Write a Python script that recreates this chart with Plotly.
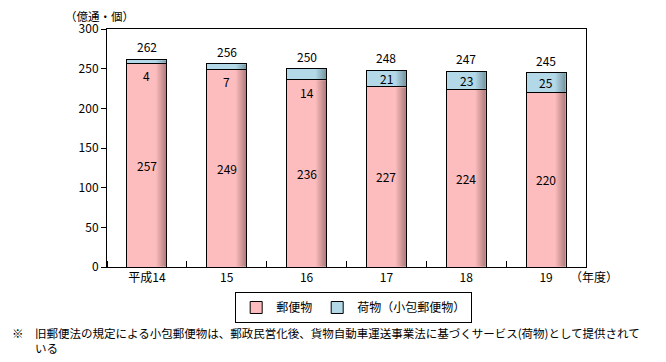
import plotly.graph_objects as go

years = ["平成14", "15", "16", "17", "18", "19"]
mail = [257, 249, 236, 227, 224, 220]
parcel = [4, 7, 14, 21, 23, 25]
totals = [262, 256, 250, 248, 247, 245]

FONT = "Noto Sans CJK JP, Noto Sans, sans-serif"
PINK = "#FDBDBE"
BLUE = "#B3D9E8"
BAR_W = 0.5

xs = list(range(len(years)))
fig = go.Figure()
fig.add_trace(go.Bar(x=xs, y=mail, name="郵便物", width=BAR_W,
                     marker=dict(color=PINK, line=dict(color="black", width=1))))
fig.add_trace(go.Bar(x=xs, y=parcel, name="荷物（小包郵便物）", width=BAR_W,
                     marker=dict(color=BLUE, line=dict(color="black", width=1))))

# right-edge shading overlays (derived from bar positions and values)
shade = [[0, "rgba(70,30,30,0)"], [1, "rgba(70,30,30,0.42)"]]
shade_b = [[0, "rgba(30,50,60,0)"], [1, "rgba(30,50,60,0.42)"]]
for i in xs:
    x0 = i + BAR_W * 0.22
    x1 = i + BAR_W / 2 - 0.006
    for (lo, hi, cs) in [(0, mail[i], shade), (mail[i], mail[i] + parcel[i], shade_b)]:
        lo2 = lo + 0.6
        hi2 = hi - 0.6
        fig.add_trace(go.Scatter(x=[x0, x1, x1, x0, x0], y=[lo2, lo2, hi2, hi2, lo2],
                                 mode="lines", line=dict(width=0), fill="toself",
                                 fillgradient=dict(type="horizontal", colorscale=cs),
                                 showlegend=False, hoverinfo="skip"))

LF = dict(size=12, color="black", family=FONT)
ann = []
for i in xs:
    ann.append(dict(x=i, y=totals[i], text=str(totals[i]), showarrow=False,
                    yanchor="bottom", yshift=2, font=LF))
    ann.append(dict(x=i, y=mail[i] / 2, text=str(mail[i]), showarrow=False,
                    yanchor="middle", font=LF))
    if parcel[i] < 18:
        ann.append(dict(x=i, y=mail[i], text=str(parcel[i]), showarrow=False,
                        yanchor="top", yshift=-2, font=LF))
    else:
        ann.append(dict(x=i, y=mail[i] + parcel[i] / 2, text=str(parcel[i]), showarrow=False,
                        yanchor="middle", font=LF))

ann.append(dict(xref="paper", yref="paper", x=-0.092, y=1.055, text="（億通・個）",
                showarrow=False, xanchor="left", yanchor="middle",
                font=dict(size=11.5, color="black", family=FONT)))
ann.append(dict(xref="paper", yref="paper", x=0.962, y=-0.042, text="（年度）",
                showarrow=False, xanchor="left", yanchor="middle", font=LF))
ann.append(dict(xref="paper", yref="paper", x=-0.202, y=-0.31,
                text="※\u3000旧郵便法の規定による小包郵便物は、郵政民営化後、貨物自動車運送事業法に基づくサービス(荷物)として提供されて<br>\u3000\u3000いる",
                showarrow=False, xanchor="left", yanchor="middle", align="left",
                font=dict(size=11.5, color="black", family=FONT)))

fig.update_layout(
    barmode="stack",
    width=666, height=362,
    margin=dict(l=99, r=88, t=21, b=103, autoexpand=False),
    paper_bgcolor="white", plot_bgcolor="white",
    font=dict(family=FONT, size=12, color="black"),
    showlegend=True,
    legend=dict(orientation="h", x=0.515, y=-0.105, xanchor="center", yanchor="top",
                bordercolor="black", borderwidth=1, bgcolor="white",
                font=dict(size=12, family=FONT), traceorder="normal"),
    annotations=ann,
)
fig.update_xaxes(range=[-0.5, 5.5], tickvals=xs, ticktext=years, ticks="",
                 showline=True, linecolor="black", linewidth=1, mirror=True,
                 showgrid=False, zeroline=False,
                 minor=dict(tick0=0.5, dtick=1, ticks="inside", ticklen=6, tickcolor="black"),
                 tickfont=LF)
fig.update_yaxes(range=[0, 300], dtick=50, ticks="outside", ticklen=5, tickcolor="black",
                 showline=True, linecolor="black", linewidth=1, mirror=True,
                 showgrid=False, zeroline=False, tickfont=LF)

fig.write_html("out.html")
